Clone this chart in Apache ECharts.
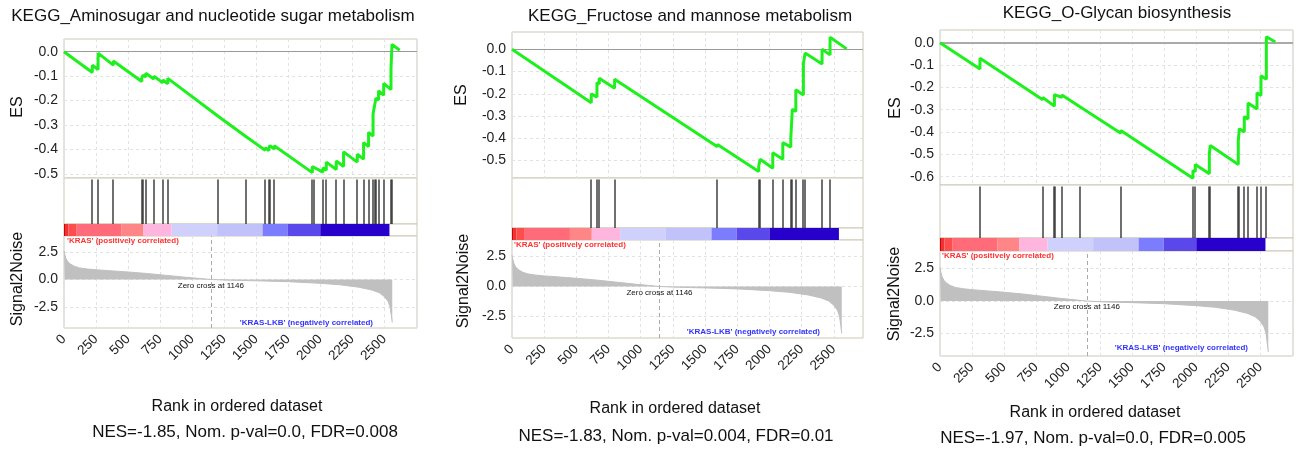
<!DOCTYPE html>
<html>
<head>
<meta charset="utf-8">
<script src="https://cdn.jsdelivr.net/npm/echarts@6/dist/echarts.min.js"></script>
<style>
  html, body { margin: 0; padding: 0; background: #fff; }
  #chart { width: 1303px; height: 450px; }
</style>
</head>
<body>
<div id="chart"></div>
<script>
// ---- data ----
const titles = [
  "KEGG_Aminosugar and nucleotide sugar metabolism",
  "KEGG_Fructose and mannose metabolism",
  "KEGG_O-Glycan biosynthesis",
];
const nesTexts = [
  "NES=-1.85, Nom. p-val=0.0, FDR=0.008",
  "NES=-1.83, Nom. p-val=0.004, FDR=0.01",
  "NES=-1.97, Nom. p-val=0.0, FDR=0.005",
];
const esTicks = [
  [0, -0.1, -0.2, -0.3, -0.4, -0.5],
  [0, -0.1, -0.2, -0.3, -0.4, -0.5],
  [0, -0.1, -0.2, -0.3, -0.4, -0.5, -0.6],
];
const s2nTicks = [2.5, 0, -2.5];
const zeroCross = 1146;

// hit positions (rank) per gene set
const aminoHits = [221, 266, 385, 607, 617, 638, 701, 771, 810, 1203, 1422, 1570, 1599, 1607, 1641,
  1938, 1948, 2021, 2047, 2125, 2182, 2289, 2338, 2377, 2412, 2424, 2435, 2455, 2495, 2552, 2560];
const fructoseHits = [616, 660, 678, 797, 1596, 1917, 1928, 2026, 2104, 2166, 2178, 2205, 2264, 2277, 2409, 2471];
const glycanHits = [312, 802, 893, 901, 951, 1089, 1411, 1974, 1992, 2102, 2109, 2328, 2336, 2375, 2404, 2474, 2505, 2547];

// running enrichment score: [rank, ES] vertices
const aminoES = [[0, 0], [221, -0.085], [221, -0.055], [266, -0.073], [266, -0.006], [385, -0.055], [385, -0.038],
  [607, -0.122], [607, -0.106], [617, -0.11], [617, -0.096], [638, -0.104], [638, -0.088], [701, -0.112], [701, -0.1],
  [771, -0.127], [771, -0.116], [810, -0.131], [810, -0.109], [1203, -0.264], [1203, -0.261], [1422, -0.348], [1422, -0.344],
  [1570, -0.403], [1570, -0.393], [1599, -0.405], [1599, -0.394], [1607, -0.397], [1607, -0.385], [1641, -0.398], [1641, -0.385],
  [1938, -0.495], [1938, -0.47], [1948, -0.474], [1948, -0.463], [2021, -0.493], [2021, -0.475], [2047, -0.485], [2047, -0.452],
  [2125, -0.482], [2125, -0.447], [2182, -0.47], [2182, -0.41], [2289, -0.452], [2289, -0.42], [2338, -0.44], [2338, -0.372],
  [2377, -0.388], [2377, -0.33], [2412, -0.345], [2412, -0.255], [2424, -0.26], [2424, -0.22], [2435, -0.225], [2435, -0.19],
  [2455, -0.198], [2455, -0.16], [2495, -0.178], [2495, -0.13], [2552, -0.155], [2552, -0.07], [2560, -0.075], [2560, 0.03],
  [2620, 0.006]];
const fructoseES = [[0, 0], [616, -0.24], [616, -0.2], [660, -0.215], [660, -0.15], [678, -0.155], [678, -0.13],
  [797, -0.175], [797, -0.135], [1596, -0.438], [1596, -0.428], [1917, -0.55], [1917, -0.525], [1928, -0.53], [1928, -0.495],
  [2026, -0.535], [2026, -0.465], [2104, -0.495], [2104, -0.42], [2166, -0.44], [2166, -0.4], [2178, -0.405], [2178, -0.27],
  [2205, -0.28], [2205, -0.182], [2264, -0.205], [2264, -0.065], [2277, -0.07], [2277, -0.017], [2409, -0.066], [2409, 0.0],
  [2471, -0.025], [2471, 0.054], [2600, 0.002]];
const glycanES = [[0, 0], [312, -0.118], [312, -0.07], [802, -0.255], [802, -0.245], [893, -0.284], [893, -0.232],
  [901, -0.235], [901, -0.226], [951, -0.245], [951, -0.234], [1089, -0.286], [1089, -0.283], [1411, -0.405], [1411, -0.393],
  [1974, -0.607], [1974, -0.572], [1992, -0.578], [1992, -0.545], [2102, -0.587], [2102, -0.5], [2109, -0.503], [2109, -0.46],
  [2328, -0.545], [2328, -0.44], [2336, -0.443], [2336, -0.385], [2375, -0.4], [2375, -0.33], [2404, -0.342], [2404, -0.27],
  [2474, -0.297], [2474, -0.224], [2505, -0.236], [2505, -0.148], [2547, -0.164], [2547, 0.027], [2617, 0.003]];

// ranked list metric (Signal2Noise), [rank, value]
const s2nPoints = [[0, 2.6], [5, 2.3], [15, 1.9], [30, 1.6], [50, 1.4], [80, 1.2], [120, 1.05], [180, 0.95], [250, 0.88],
  [350, 0.8], [500, 0.68], [650, 0.54], [800, 0.37], [950, 0.2], [1050, 0.1], [1146, 0], [1300, -0.07], [1500, -0.12],
  [1750, -0.2], [2000, -0.35], [2150, -0.48], [2300, -0.7], [2400, -0.95], [2460, -1.2], [2500, -1.55], [2530, -2.0],
  [2545, -2.5], [2555, -3.3], [2562, -3.9]];

// colour bar segments along the rank axis
const barEdges = [0, 8, 34, 99, 450, 620, 840, 1195, 1550, 1745, 2000, 2540, 2610];

// ---- styles / layout ----
const barColors = ["#d80000", "#ec3434", "#ff4c4c", "#ff6b78", "#ff8686", "#ffb6de",
  "#d0d0fc", "#c2c2fb", "#7c7cff", "#5a48ea", "#2800cc"];
const FONT = "'Liberation Sans', Arial, sans-serif";
const layouts = [
  { left: 64, width: 353, xMax: 2755, es: [39, 139], hits: [178, 46], bar: [224, 12], s2n: [236, 92],
    esMin: -0.517, esMax: 0.052, s2nMin: -4.41, s2nMax: 3.95,
    title: [213, 16], esName: [18, 107], s2nName: [18, 279], rank: [237, 407], nes: [245, 432],
    pos: [67, 241], neg: [373, 323] },
  { left: 512, width: 351, xMax: 2727, es: [32, 146], hits: [178, 50], bar: [228, 12], s2n: [240, 98],
    esMin: -0.579, esMax: 0.078, s2nMin: -4.28, s2nMax: 3.86,
    title: [690, 16], esName: [462, 95], s2nName: [464, 281], rank: [675, 409], nes: [676, 436],
    pos: [514, 245], neg: [820, 332] },
  { left: 940, width: 353, xMax: 2755, es: [30, 155], hits: [185, 53], bar: [238, 13], s2n: [251, 105],
    esMin: -0.637, esMax: 0.057, s2nMin: -4.22, s2nMax: 3.85,
    title: [1117, 13], esName: [896, 108], s2nName: [895, 294], rank: [1095, 413], nes: [1093, 438],
    pos: [942, 256], neg: [1248, 348] },
];
const esData = [aminoES, fructoseES, glycanES];
const hitData = [aminoHits, fructoseHits, glycanHits];

const grid = [], xAxis = [], yAxis = [], series = [], graphic = [];
const dashed = { show: true, lineStyle: { color: "#e2e2e2", type: [3, 3], width: 1 } };

layouts.forEach((L, p) => {
  const base = p * 4;
  [L.es, L.hits, L.bar, L.s2n].forEach((g) => {
    grid.push({ left: L.left, width: L.width, top: g[0], height: g[1], show: true,
      borderColor: "#cbc7b6", borderWidth: 1, backgroundColor: "#fff" });
  });
  for (let k = 0; k < 4; k++) {
    const withGrid = k === 0 || k === 3;
    xAxis.push({
      type: "value", gridIndex: base + k, min: 0, max: L.xMax, interval: 250,
      axisLine: { show: false }, axisTick: { show: false },
      splitLine: withGrid ? dashed : { show: false },
      axisLabel: k === 3 ? {
        show: true, rotate: 45, fontSize: 13.5, color: "#222", fontFamily: FONT, margin: 9,
        formatter: (v) => (v <= 2500 ? String(v) : ""),
      } : { show: false },
    });
  }
  yAxis.push({
    type: "value", gridIndex: base, min: L.esMin, max: L.esMax,
    axisLine: { show: false },
    axisTick: { show: false, customValues: esTicks[p] },
    splitLine: dashed,
    axisLabel: { customValues: esTicks[p], fontSize: 14, color: "#222", fontFamily: FONT, margin: 6,
      formatter: (v) => v.toFixed(1) },
  });
  yAxis.push({ type: "value", gridIndex: base + 1, min: 0, max: 1, show: false });
  yAxis.push({ type: "value", gridIndex: base + 2, min: 0, max: 1, show: false });
  yAxis.push({
    type: "value", gridIndex: base + 3, min: L.s2nMin, max: L.s2nMax,
    axisLine: { show: false },
    axisTick: { show: false, customValues: s2nTicks },
    splitLine: dashed,
    axisLabel: { customValues: s2nTicks, fontSize: 14, color: "#222", fontFamily: FONT, margin: 6,
      formatter: (v) => v.toFixed(1) },
  });

  // running ES
  series.push({
    type: "line", xAxisIndex: base, yAxisIndex: base, data: esData[p],
    showSymbol: false, symbol: "none", z: 5,
    lineStyle: { color: "#1ef01e", width: 3 },
    markLine: { silent: true, symbol: "none", label: { show: false },
      lineStyle: { color: p === 2 ? "#aaa" : "#999", width: p === 2 ? 2 : 1, type: "solid" },
      data: [{ yAxis: 0 }] },
  });
  // hits
  series.push({
    type: "custom", xAxisIndex: base + 1, yAxisIndex: base + 1,
    data: hitData[p].map((v) => [v, 0]), encode: { x: 0, y: 1 },
    renderItem: (params, api) => {
      const a = api.coord([api.value(0), 0.97]);
      const b = api.coord([api.value(0), 0]);
      const x = Math.round(a[0]);
      return { type: "line", shape: { x1: x, y1: a[1], x2: x, y2: b[1] },
        style: { stroke: "#333", lineWidth: 1.4 } };
    },
  });
  // colour bar
  series.push({
    type: "custom", xAxisIndex: base + 2, yAxisIndex: base + 2,
    data: barEdges.slice(0, -1).map((v, i) => [v, barEdges[i + 1], 0]), encode: { x: [0, 1], y: 2 },
    renderItem: (params, api) => {
      const a = api.coord([api.value(0), 1]);
      const b = api.coord([api.value(1), 0]);
      return { type: "rect", shape: { x: a[0], y: a[1], width: b[0] - a[0], height: b[1] - a[1] },
        style: { fill: barColors[params.dataIndex] } };
    },
  });
  // Signal2Noise
  series.push({
    type: "line", xAxisIndex: base + 3, yAxisIndex: base + 3, data: s2nPoints,
    showSymbol: false, symbol: "none",
    lineStyle: { color: "#c0c0c0", width: 1 },
    areaStyle: { color: "#c0c0c0", opacity: 1 },
    markLine: { silent: true, symbol: "none", label: { show: false },
      lineStyle: { color: "#aaa", width: 1, type: [4, 3] }, data: [{ xAxis: zeroCross }] },
    markPoint: { silent: true, symbol: "circle", symbolSize: 0,
      label: { show: true, position: "bottom", distance: 2, formatter: "Zero cross at " + zeroCross,
        fontSize: 8, color: "#111", fontFamily: FONT },
      data: [{ coord: [zeroCross, 0] }] },
  });

  // texts
  graphic.push(
    { type: "text", x: L.title[0], y: L.title[1], style: { text: titles[p], font: "17px " + FONT,
      fill: "#111", textAlign: "center", textVerticalAlign: "middle" } },
    { type: "text", x: L.esName[0], y: L.esName[1], rotation: Math.PI / 2, style: { text: "ES",
      font: "16px " + FONT, fill: "#111", textAlign: "center", textVerticalAlign: "middle" } },
    { type: "text", x: L.s2nName[0], y: L.s2nName[1], rotation: Math.PI / 2, style: { text: "Signal2Noise",
      font: "16px " + FONT, fill: "#111", textAlign: "center", textVerticalAlign: "middle" } },
    { type: "text", x: L.rank[0], y: L.rank[1], style: { text: "Rank in ordered dataset",
      font: "16px " + FONT, fill: "#111", textAlign: "center", textVerticalAlign: "middle" } },
    { type: "text", x: L.nes[0], y: L.nes[1], style: { text: nesTexts[p],
      font: "17px " + FONT, fill: "#111", textAlign: "center", textVerticalAlign: "middle" } },
    { type: "text", x: L.pos[0], y: L.pos[1], z: 10, style: { text: "'KRAS' (positively correlated)",
      font: "bold 8px " + FONT, fill: "#ff3030", textAlign: "left", textVerticalAlign: "middle" } },
    { type: "text", x: L.neg[0], y: L.neg[1], z: 10, style: { text: "'KRAS-LKB' (negatively correlated)",
      font: "bold 8px " + FONT, fill: "#3333ff", textAlign: "right", textVerticalAlign: "middle" } },
  );
});

const chart = echarts.init(document.getElementById("chart"), null, { renderer: "canvas" });
chart.setOption({
  animation: false,
  backgroundColor: "#fff",
  grid, xAxis, yAxis, series, graphic,
});
</script>
</body>
</html>
